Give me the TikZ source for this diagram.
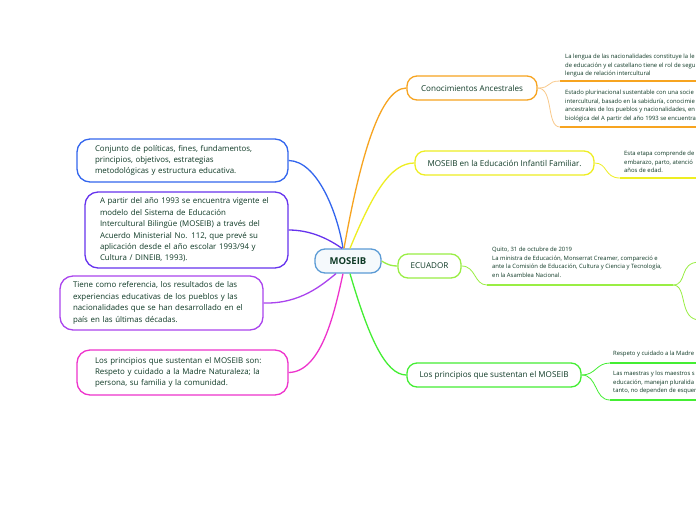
\documentclass[tikz,border=0pt]{standalone}
\usepackage{fontspec}
\setmainfont{Open Sans}
\definecolor{tdark}{HTML}{0F3A26}
\definecolor{cblue}{HTML}{3366EE}
\definecolor{cpurple}{HTML}{6633EE}
\definecolor{cviolet}{HTML}{AA44EE}
\definecolor{cmagenta}{HTML}{EE33CC}
\definecolor{corange}{HTML}{F7A420}
\definecolor{corangel}{HTML}{F9C98A}
\definecolor{cyellow}{HTML}{EEEE22}
\definecolor{clime}{HTML}{99EE44}
\definecolor{cgreen}{HTML}{44EE33}
\definecolor{ccenter}{HTML}{5B9BD5}
\begin{document}
\begin{tikzpicture}[x=1pt,y=-1pt,
  leftbox/.style={draw, line width=1.3pt, rounded corners=13pt, fill=white, align=left,
    text=tdark, font=\fontsize{7.9}{11.4}\selectfont, inner ysep=2pt},
  rbox/.style={draw, line width=1.3pt, rounded corners=10pt, fill=white,
    text=tdark, font=\fontsize{8.1}{9}\selectfont, minimum height=24pt, inner sep=0pt},
  subtext/.style={anchor=north west, inner sep=0pt, align=left, text=tdark,
    font=\fontsize{5.9}{8.5}\selectfont},
  mainlink/.style={line width=1.3pt},
  sublink/.style={line width=0.8pt},
  underl/.style={line width=2pt}]
\useasboundingbox (0,0) rectangle (696,520);
\clip (0,0) rectangle (696,520);
\fill[white] (0,0) rectangle (696,520);

% center
\node[draw=ccenter, line width=1.3pt, rounded corners=10pt, fill=ccenter!6, text=tdark,
  font=\fontsize{9.5}{11}\selectfont\bfseries, minimum width=66pt, minimum height=24pt, inner sep=0pt]
  (c) at (348,261) {MOSEIB};

% left nodes
\node[leftbox, draw=cblue, text width=175pt, inner xsep=18pt, minimum height=43pt] (l1) at (182.5,160.5)
 {Conjunto de políticas, fines, fundamentos,\\ principios, objetivos, estrategias\\ metodológicas y estructura educativa.};
\node[leftbox, draw=cpurple, text width=173pt, inner xsep=15pt, minimum height=76pt] (l2) at (186.5,230)
 {A partir del año 1993 se encuentra vigente el\\ modelo del Sistema de Educación\\ Intercultural Bilingüe (MOSEIB) a través del\\ Acuerdo Ministerial No. 112, que prevé su\\ aplicación desde el año escolar 1993/94 y\\ Cultura / DINEIB, 1993).};
\node[leftbox, draw=cviolet, text width=177pt, inner xsep=13pt, minimum height=54pt] (l3) at (161.5,303)
 {Tiene como referencia, los resultados de las\\ experiencias educativas de los pueblos y las\\ nacionalidades que se han desarrollado en el\\ país en las últimas décadas.};
\node[leftbox, draw=cmagenta, text width=175pt, inner xsep=18pt, minimum height=45pt] (l4) at (182.5,372.5)
 {Los principios que sustentan el MOSEIB son:\\ Respeto y cuidado a la Madre Naturaleza; la\\ persona, su familia y la comunidad.};

% right nodes
\node[rbox, draw=corange, minimum width=130pt] (r1) at (472,88) {Conocimientos Ancestrales};
\node[rbox, draw=cyellow, minimum width=179pt] (r2) at (504.5,163) {MOSEIB en la Educación Infantil Familiar.};
\node[rbox, draw=clime, minimum width=63pt] (r3) at (429.5,266) {ECUADOR};
\node[rbox, draw=cgreen, minimum width=174pt] (r4) at (494,375) {Los principios que sustentan el MOSEIB};

% main links
\draw[mainlink, cblue] (l1.east) .. controls (318,161) and (338,215) .. ([xshift=-5pt]c.north);
\draw[mainlink, cpurple] (l2.east) .. controls (312,230) and (330,240) .. ([xshift=-6pt]c.north);
\draw[mainlink, cviolet] (l3.east) .. controls (300,304) and (322,285) .. ([xshift=-12pt]c.south);
\draw[mainlink, cmagenta] (l4.east) .. controls (322,372) and (335,310) .. ([xshift=-5pt]c.south);
\draw[mainlink, corange] ([xshift=-4pt]c.north) .. controls (358,170) and (378,88) .. (r1.west);
\draw[mainlink, cyellow] ([xshift=2pt]c.north) .. controls (372,195) and (390,163) .. (r2.west);
\draw[mainlink, clime] (c.east) .. controls (388,265) and (392,266) .. (r3.west);
\draw[mainlink, cgreen] ([xshift=2pt]c.south) .. controls (368,335) and (385,375) .. (r4.west);

% Conocimientos subitems
\node[subtext] (k1) at (565,54) {La lengua de las nacionalidades constituye la le\\ de educación y el castellano tiene el rol de segu\\ lengua de relación intercultural};
\node[subtext] (k2) at (565,90) {Estado plurinacional sustentable con una socie\\ intercultural, basado en la sabiduría, conocimie\\ ancestrales de los pueblos y nacionalidades, en\\ biológica del A partir del año 1993 se encuentra};
\coordinate (k1a) at (560,81); \coordinate (k1b) at (700,81);
\coordinate (k2a) at (560,127); \coordinate (k2b) at (700,127);
\draw[underl, corange] (k1a) -- (k1b);
\draw[underl, corange] (k2a) -- (k2b);
\draw[sublink, corangel] (r1.east) .. controls (552,88) and (546,81) .. (k1a);
\draw[sublink, corangel] (r1.east) .. controls (554,88) and (546,127) .. (k2a);

% Yellow subitem
\node[subtext] (y1) at (624,151) {Esta etapa comprende de\\ embarazo, parto, atenció\\ años de edad.};
\coordinate (y1a) at (620,178); \coordinate (y1b) at (700,178);
\draw[underl, cyellow] (y1a) -- (y1b);
\draw[sublink, cyellow] (r2.east) .. controls (608,163) and (604,178) .. (y1a);

% Ecuador subitem
\node[subtext] (e1) at (492,247) {Quito, 31 de octubre de 2019\\ La ministra de Educación, Monserrat Creamer, compareció e\\ ante la Comisión de Educación, Cultura y Ciencia y Tecnología,\\ en la Asamblea Nacional.};
\coordinate (e1a) at (487,285); \coordinate (e1b) at (673,285);
\coordinate (e2) at (700,262); \coordinate (e3) at (700,320);
\draw[underl, clime] (e1a) -- (e1b);
\draw[sublink, clime] (r3.east) .. controls (476,266) and (474,285) .. (e1a);
\draw[sublink, clime] (e1b) .. controls (688,285) and (678,262) .. (e2);
\draw[sublink, clime] (e1b) .. controls (688,285) and (678,320) .. (e3);

% Principios subitems
\node[subtext] (p1) at (613,351) {Respeto y cuidado a la Madre};
\node[subtext] (p2) at (613,371) {Las maestras y los maestros s\\ educación, manejan pluralida\\ tanto, no dependen de esquem};
\coordinate (p1a) at (610,363); \coordinate (p1b) at (700,363);
\coordinate (p2a) at (610,400); \coordinate (p2b) at (700,400);
\draw[underl, cgreen] (p1a) -- (p1b);
\draw[underl, cgreen] (p2a) -- (p2b);
\draw[sublink, cgreen] (r4.east) .. controls (596,375) and (596,363) .. (p1a);
\draw[sublink, cgreen] (r4.east) .. controls (598,375) and (594,400) .. (p2a);
\end{tikzpicture}
\end{document}
